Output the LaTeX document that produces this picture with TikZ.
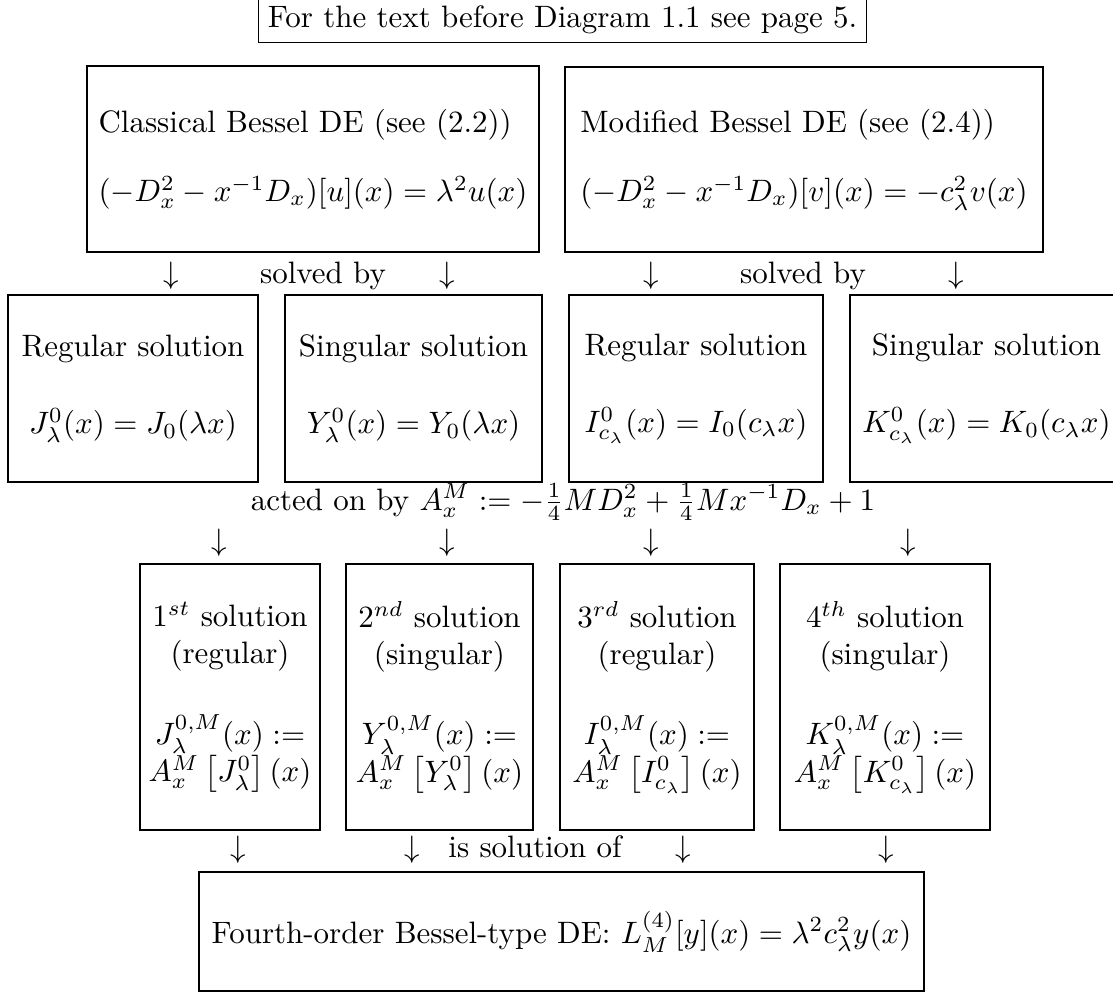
\documentclass[tikz,border=0pt]{standalone}
\usepackage{amsmath}
\pgfkeys{tikz/mybox/.style={draw,thin,inner sep=0pt,align=center}}
\pgfkeys{tikz/boxsize/.style 2 args={minimum width=#1*0.323pt,minimum height=#2*0.323pt}}
\pgfkeys{tikz/mylabel/.style={anchor=base,inner sep=0pt}}
\newcommand{\downarrows}[2]{%
  \foreach \n/\x in {#2} {%
    \node[mylabel] (\n) at (\x,#1) {$\downarrow$};%
  }%
}

\begin{document}
\begin{tikzpicture}[x=0.323pt,y=-0.323pt]
\useasboundingbox (0,0) rectangle (1113,992);

% note on top
\node[draw,thin,inner sep=3pt,text height=9pt,anchor=base] (note) at (562.5,27) {For the text before Diagram 1.1 see page 5.};

% the two Bessel equations
\node[mybox,boxsize={452}{186},align=left] (clas) at (313,159)
  {Classical Bessel DE (see (2.2))\\[10.3pt]$(-D_x^2-x^{-1}D_x)[u](x)=\lambda^2u(x)$};
\node[mybox,boxsize={478}{185},align=left] (modi) at (804,159.5)
  {Modified Bessel DE (see (2.4))\\[10.3pt]$(-D_x^2-x^{-1}D_x)[v](x)=-c_\lambda^2v(x)$};

\downarrows{283}{da1/171, da2/447, da3/651, da4/956}
\node[mylabel] (solv1) at (323,283) {solved by};
\node[mylabel] (solv2) at (803,283) {solved by};

% solutions
\node[mybox,boxsize={250}{187}] (regJ) at (133,388.5)
  {Regular solution\\[12.9pt]$J_\lambda^0(x)=J_0(\lambda x)$};
\node[mybox,boxsize={257}{187}] (singY) at (413.5,388.5)
  {Singular solution\\[12.9pt]$Y_\lambda^0(x)=Y_0(\lambda x)$};
\node[mybox,boxsize={254}{187}] (regI) at (696,388.5)
  {Regular solution\\[12.9pt]$I_{c_\lambda}^0(x)=I_0(c_\lambda x)$};
\node[mybox,boxsize={273}{187}] (singK) at (986.5,388.5)
  {Singular solution\\[12.9pt]$K_{c_\lambda}^0(x)=K_0(c_\lambda x)$};

\node[mylabel] (act) at (563,510)
  {acted on by $A_x^M:=-\frac{1}{4}MD_x^2+\frac{1}{4}Mx^{-1}D_x+1$};
\downarrows{550}{db1/219, db2/447, db3/651, db4/908}

% fourth order solutions
\node[mybox,boxsize={180}{266}] (solA) at (230,697)
  {$1^{st}$ solution\\(regular)\\[12.9pt]$J_\lambda^{0,M}(x):=$\\$A_x^M\left[J_\lambda^0\right](x)$};
\node[mybox,boxsize={187}{266}] (solB) at (439.5,697)
  {$2^{nd}$ solution\\(singular)\\[12.9pt]$Y_\lambda^{0,M}(x):=$\\$A_x^M\left[Y_\lambda^0\right](x)$};
\node[mybox,boxsize={194}{266}] (solC) at (657,697)
  {$3^{rd}$ solution\\(regular)\\[12.9pt]$I_\lambda^{0,M}(x):=$\\$A_x^M\left[I_{c_\lambda}^0\right](x)$};
\node[mybox,boxsize={210}{266}] (solD) at (885,697)
  {$4^{th}$ solution\\(singular)\\[12.9pt]$K_\lambda^{0,M}(x):=$\\$A_x^M\left[K_{c_\lambda}^0\right](x)$};

\downarrows{857}{dc1/238, dc2/412, dc3/683, dc4/886}
\node[mylabel] (issol) at (535,857) {is solution of};

% fourth order equation
\node[mybox,boxsize={725}{119}] (four) at (561.5,931.5)
  {Fourth-order Bessel-type DE: $L_M^{(4)}[y](x)=\lambda^2c_\lambda^2y(x)$};
\end{tikzpicture}
\end{document}
